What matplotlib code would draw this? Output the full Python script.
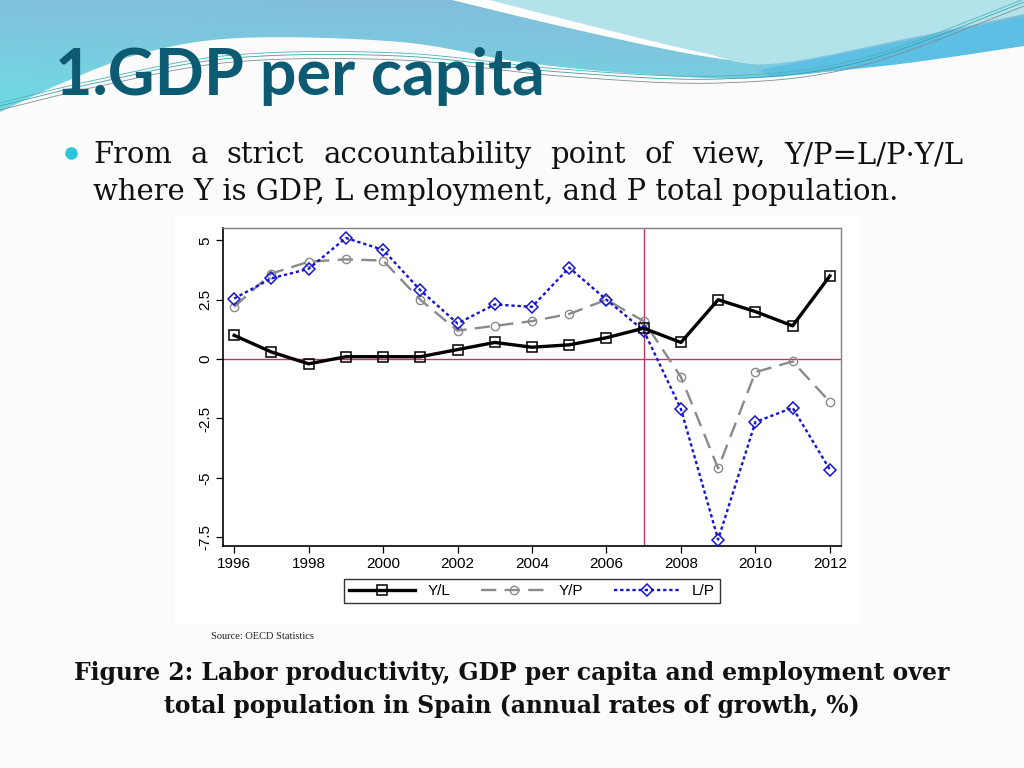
import numpy as np
import matplotlib
matplotlib.use("Agg")
import matplotlib.pyplot as plt
from matplotlib.patches import Polygon, Rectangle
from matplotlib.lines import Line2D

# annual growth rates (%), Spain
years = list(range(1996, 2013))
y_over_l = [1.0, 0.3, -0.2, 0.1, 0.1, 0.1, 0.4, 0.7, 0.5, 0.6, 0.9, 1.3,
            0.7, 2.5, 2.0, 1.4, 3.5]
y_over_p = [2.2, 3.6, 4.1, 4.2, 4.15, 2.5, 1.2, 1.4, 1.6, 1.9, 2.5, 1.6,
            -0.75, -4.6, -0.55, -0.1, -1.8]
l_over_p = [2.55, 3.4, 3.8, 5.1, 4.6, 2.9, 1.5, 2.3, 2.2, 3.85, 2.5, 1.2,
            -2.1, -7.6, -2.65, -2.05, -4.65]
series_labels = ["Y/L", "Y/P", "L/P"]
x_ticks = list(range(1996, 2013, 2))
y_ticks = [5, 2.5, 0, -2.5, -5, -7.5]
y_tick_labels = ["5", "2.5", "0", "-2.5", "-5", "-7.5"]
crisis_year = 2007

TITLE = "1.GDP per capita"
LINE1 = "From a strict accountability point of view, Y/P=L/P\u00b7Y/L"
LINE2 = "where Y is GDP, L employment, and P total population."
SOURCE = "Source: OECD Statistics"
CAPTION1 = "Figure 2: Labor productivity, GDP per capita and employment over"
CAPTION2 = "total population in Spain (annual rates of growth, %)"

SERIF = ["DejaVu Serif"]
SANS = ["Liberation Sans", "DejaVu Sans"]


def smooth(pts, n=40):
    # catmull-rom through the control points, only for the slide decoration
    pts = np.asarray(pts, float)
    p = np.vstack([pts[0], pts, pts[-1]])
    out = []
    t = np.linspace(0, 1, n)[:, None]
    for i in range(1, len(p) - 2):
        p0, p1, p2, p3 = p[i - 1], p[i], p[i + 1], p[i + 2]
        out.append(0.5 * (2 * p1 + (-p0 + p2) * t
                          + (2 * p0 - 5 * p1 + 4 * p2 - p3) * t ** 2
                          + (-p0 + 3 * p1 - 3 * p2 + p3) * t ** 3))
    return np.vstack(out)


def fit_width(txt, target_px, renderer):
    # rescale the font so the text spans the same width as on the slide
    w = txt.get_window_extent(renderer).width
    txt.set_fontsize(txt.get_fontsize() * target_px / w)


fig = plt.figure(figsize=(10.24, 7.68), dpi=100, facecolor="#fbfbfb")
renderer = fig.canvas.get_renderer()

# --- slide background (pixel coordinates) ---
bg = fig.add_axes([0, 0, 1, 1], zorder=-1)
bg.set_xlim(0, 1024)
bg.set_ylim(768, 0)
bg.axis("off")

lower = smooth([(0, 112), (60, 84), (140, 54), (240, 38), (400, 42), (520, 62),
                (640, 74), (760, 78), (900, 62), (1024, 44)])
blue_poly = Polygon(np.vstack([[(0, 0)], lower, [(1024, 0)]]), closed=True,
                    fc="none", ec="none")
bg.add_patch(blue_poly)
gy, gx = np.mgrid[0:1:120j, 0:1:256j]
top_c = np.array([0x86, 0xb9, 0xd8]) / 255
bot_c = np.array([0x72, 0xd8, 0xe4]) / 255
mix = np.clip(gy * 0.9 + (1 - gx) * 0.25, 0, 1)[..., None]
grad = top_c * (1 - mix) + bot_c * mix
im = bg.imshow(grad, extent=[0, 1024, 120, 0], aspect="auto", zorder=0)
im.set_clip_path(blue_poly)

pale = smooth([(490, 0), (600, 28), (700, 52), (770, 64), (900, 40), (1024, 14)])
bg.add_patch(Polygon(np.vstack([pale, [(1024, 0)]]), closed=True,
                     fc="#b2e3ea", ec="none", zorder=1))
band_top = smooth([(452, 0), (560, 26), (680, 52), (770, 66)])
bg.add_patch(Polygon(np.vstack([band_top, pale[:len(pale) // 2][::-1]]),
                     closed=True, fc="white", ec="none", zorder=1))
streak = smooth([(760, 70), (900, 42), (1024, 16)])
streak_low = smooth([(1024, 46), (900, 64), (770, 77)])
bg.add_patch(Polygon(np.vstack([streak, streak_low]), closed=True,
                     fc="#5cbfe3", ec="none", zorder=1))

for dy, col in [(0, "#3aa3ab"), (4, "#7f8f95"), (-3, "#4fb3bb")]:
    thin = smooth([(0, 106 + dy), (100, 82 + dy), (233, 58 + dy), (400, 56 + dy),
                   (560, 72 + dy), (720, 79 + dy), (860, 62 + dy), (1024, 2 + dy)])
    bg.plot(thin[:, 0], thin[:, 1], color=col, lw=0.6, zorder=2)

title = bg.text(55, 95, TITLE, fontsize=45, fontweight="bold", color="#0d5a73",
                family=["Liberation Sans Narrow", "Lato", "DejaVu Sans"], zorder=3)
fit_width(title, 490, renderer)

# bullet text, first line justified
bg.plot([71], [153], "o", ms=8, color="#2dc5d9", zorder=3)
line2 = bg.text(93, 200, LINE2, fontsize=20, family=SERIF, color="#111111")
fit_width(line2, 804, renderer)
body_size = line2.get_fontsize()
words = LINE1.split()
word_txt = [bg.text(0, 163, w, fontsize=body_size, family=SERIF, color="#111111")
            for w in words]
widths = [t.get_window_extent(renderer).width for t in word_txt]
gap = (963 - 93 - sum(widths)) / (len(words) - 1)
x = 93
for t, w in zip(word_txt, widths):
    t.set_x(x)
    x += w + gap

bg.add_patch(Rectangle((175, 215), 685, 410, fc="white", ec="none", zorder=0))
bg.text(211, 639, SOURCE, fontsize=7.5, family=["Liberation Serif"], color="#222222")
cap1 = bg.text(512, 673, CAPTION1, fontsize=18, fontweight="bold", family=SERIF,
               ha="center", va="center", color="#111111")
fit_width(cap1, 879, renderer)
bg.text(512, 706, CAPTION2, fontsize=cap1.get_fontsize(), fontweight="bold",
        family=SERIF, ha="center", va="center", color="#111111")

# --- chart ---
ax = fig.add_axes([223 / 1024, 1 - 546 / 768, 618 / 1024, 318 / 768])
ax.set_facecolor("white")
ax.axhline(0, color="#b83a62", lw=1.0, zorder=1)
ax.axvline(crisis_year, color="#b83a62", lw=1.0, zorder=1)

ax.plot(years, y_over_l, color="black", lw=2.4, marker="s", ms=6.5,
        mfc="none", mec="black", mew=1.1, label=series_labels[0], zorder=4)
ax.plot(years, y_over_p, color="#8a8a8a", lw=1.7, dashes=(6.5, 3.5), marker="o",
        ms=6, mfc="none", mec="#8a8a8a", mew=1.0, label=series_labels[1], zorder=3)
ax.plot(years, l_over_p, color="#1515d0", lw=1.7, dashes=(1.4, 1.2), marker="D",
        ms=6.5, mfc="none", mec="#1515d0", mew=1.1, label=series_labels[2], zorder=3)

ax.set_xlim(1995.7, 2012.3)
ax.set_ylim(-7.87, 5.52)
ax.set_xticks(x_ticks)
ax.set_xticklabels([str(v) for v in x_ticks], family=SANS, fontsize=11)
ax.set_yticks(y_ticks)
ax.set_yticklabels(y_tick_labels, family=SANS, fontsize=11, rotation=90,
                   va="center")
ax.tick_params(direction="out", length=5, width=0.9, color="black", pad=3)
for side in ["left", "bottom"]:
    ax.spines[side].set_color("black")
    ax.spines[side].set_linewidth(1.2)
for side in ["top", "right"]:
    ax.spines[side].set_color("#808080")
    ax.spines[side].set_linewidth(1.0)

handles = [
    Line2D([], [], color="black", lw=2.4, marker="s", ms=6.5, mfc="none", mew=1.1),
    Line2D([], [], color="#8a8a8a", lw=1.7, dashes=(6.5, 3.5), marker="o", ms=6,
           mfc="none", mew=1.0),
    Line2D([], [], color="#1515d0", lw=1.7, dashes=(1.4, 1.2), marker="D", ms=6.5,
           mfc="none", mew=1.1),
]
leg = fig.legend(handles, series_labels, loc="center", ncol=3,
                 bbox_to_anchor=(532 / 1024, 1 - 591 / 768), frameon=True,
                 fancybox=False, edgecolor="black", handlelength=4.3,
                 columnspacing=2.0, handletextpad=0.8, borderpad=0.35,
                 prop={"family": SANS, "size": 11})
leg.get_frame().set_linewidth(1.0)

fig.savefig("out.png", dpi=100, facecolor=fig.get_facecolor())
